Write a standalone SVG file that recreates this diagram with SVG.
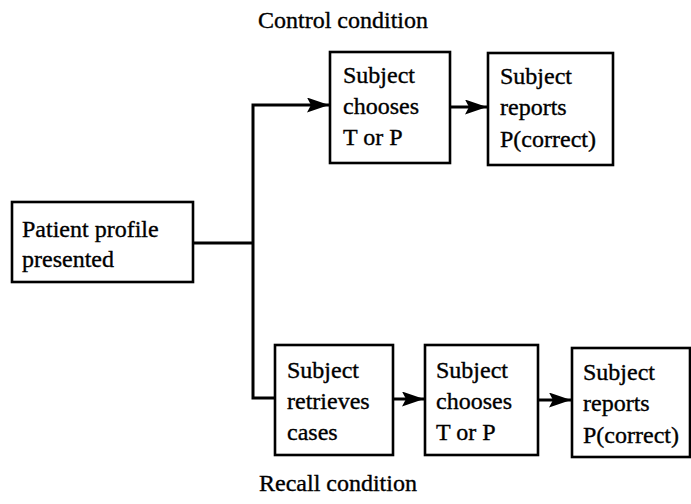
<svg xmlns="http://www.w3.org/2000/svg" width="691" height="504" viewBox="0 0 691 504">
  <style>
    .box { fill: #ffffff; stroke: #000000; stroke-width: 2.6; }
    .lbl { font-family: "Liberation Serif", "DejaVu Serif", serif; font-size: 24px; fill: #000000; stroke: #000000; stroke-width: 0.35; }
    .wire { fill: none; stroke: #000000; stroke-width: 3; }
  </style>
  <defs>
    <marker id="head" markerUnits="userSpaceOnUse" markerWidth="22" markerHeight="15" refX="22" refY="7.5" orient="auto">
      <path d="M0,0 L22,7.5 L0,15 L4,7.5 z" fill="#000000"/>
    </marker>
  </defs>

  <rect width="691" height="504" fill="#ffffff"/>

  <!-- condition headings -->
  <text class="lbl" x="258" y="28">Control condition</text>
  <text class="lbl" x="259" y="491">Recall condition</text>

  <!-- connectors -->
  <g id="connectors">
    <path class="wire" d="M193,243 H253"/>
    <path class="wire" d="M253,243 V105 H329" marker-end="url(#head)"/>
    <path class="wire" d="M253,243 V398 H275"/>
    <path class="wire" d="M450,107 H487" marker-end="url(#head)"/>
    <path class="wire" d="M393,399 H424" marker-end="url(#head)"/>
    <path class="wire" d="M538,400 H571" marker-end="url(#head)"/>
  </g>

  <!-- start node -->
  <g id="patient-profile">
    <rect class="box" x="12" y="202" width="181" height="80"/>
    <text class="lbl" x="22" y="237">Patient profile</text>
    <text class="lbl" x="22" y="267">presented</text>
  </g>

  <!-- control branch -->
  <g id="control-choose">
    <rect class="box" x="330" y="52" width="120" height="111"/>
    <text class="lbl" x="343" y="83">Subject</text>
    <text class="lbl" x="343" y="114">chooses</text>
    <text class="lbl" x="343" y="145">T or P</text>
  </g>
  <g id="control-report">
    <rect class="box" x="488" y="53" width="125" height="112"/>
    <text class="lbl" x="500" y="84">Subject</text>
    <text class="lbl" x="500" y="115">reports</text>
    <text class="lbl" x="500" y="147">P(correct)</text>
  </g>

  <!-- recall branch -->
  <g id="recall-retrieve">
    <rect class="box" x="275" y="345" width="118" height="110"/>
    <text class="lbl" x="287" y="378">Subject</text>
    <text class="lbl" x="287" y="409">retrieves</text>
    <text class="lbl" x="287" y="440">cases</text>
  </g>
  <g id="recall-choose">
    <rect class="box" x="425" y="345" width="113" height="110"/>
    <text class="lbl" x="436" y="378">Subject</text>
    <text class="lbl" x="436" y="409">chooses</text>
    <text class="lbl" x="436" y="440">T or P</text>
  </g>
  <g id="recall-report">
    <rect class="box" x="572" y="348" width="118" height="109"/>
    <text class="lbl" x="583" y="380">Subject</text>
    <text class="lbl" x="583" y="411">reports</text>
    <text class="lbl" x="583" y="443">P(correct)</text>
  </g>
</svg>
